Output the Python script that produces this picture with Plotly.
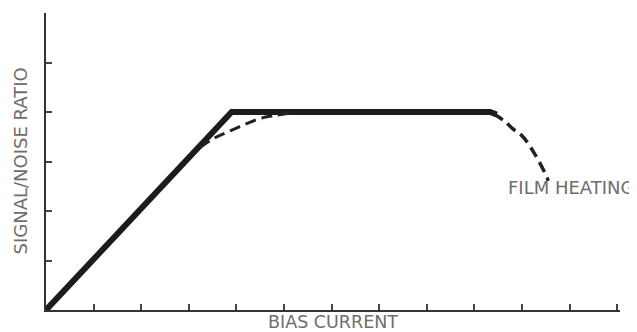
import plotly.graph_objects as go

# Data (units: x = bias current ticks, y = S/N ratio ticks)
solid_x = [0.0, 3.9, 9.33, 9.47]
solid_y = [0.0, 4.0, 4.0, 3.95]

knee_x = [3.24, 3.55, 3.87, 4.18, 4.50, 4.81, 5.13]
knee_y = [3.29, 3.48, 3.62, 3.75, 3.87, 3.93, 3.98]

heat_x = [9.40, 9.64, 9.81, 10.02, 10.27, 10.53, 10.55]
heat_y = [3.97, 3.81, 3.66, 3.50, 3.15, 2.67, 2.61]

x_ticks = list(range(1, 13))
y_ticks = [1, 2, 3, 4, 5]

OFF = 8  # default page body margin
W, H = 637 - OFF, 332 - OFF
# plot area in page pixels: x 46..620, y 13..302
ml, mr, mt, mb = 46 - OFF, 637 - 620, 13 - OFF, 332 - 302 - OFF
PW, PH = W - ml - mr, H - mt - mb


def px(xp):
    return (xp - OFF - ml) / PW


def py(yp):
    return (H - mb - (yp - OFF)) / PH


label_font = dict(family="DejaVu Sans", size=18, color="#6e6e6e")

fig = go.Figure()
fig.add_trace(go.Scatter(x=solid_x, y=solid_y, mode="lines",
                         line=dict(color="#1c1c1c", width=6), hoverinfo="skip"))
fig.add_trace(go.Scatter(x=knee_x, y=knee_y, mode="lines",
                         line=dict(color="#222", width=3, dash="11px,6px", shape="spline"),
                         hoverinfo="skip"))
fig.add_trace(go.Scatter(x=heat_x, y=heat_y, mode="lines",
                         line=dict(color="#222", width=3.5, dash="11px,6px", shape="spline"),
                         hoverinfo="skip"))

fig.update_layout(
    width=W, height=H, margin=dict(l=ml, r=mr, t=mt, b=mb),
    paper_bgcolor="white", plot_bgcolor="white", showlegend=False,
    xaxis=dict(range=[0, 12.06], showgrid=False, zeroline=False, showline=True,
               linecolor="#333", linewidth=2, ticks="inside", tickvals=x_ticks,
               ticklen=6, tickwidth=1.5, tickcolor="#444", showticklabels=False),
    yaxis=dict(range=[0, 6], showgrid=False, zeroline=False, showline=True,
               linecolor="#333", linewidth=2, ticks="inside", tickvals=y_ticks,
               ticklen=6, tickwidth=1.5, tickcolor="#444", showticklabels=False),
    annotations=[
        dict(text="BIAS CURRENT", xref="paper", yref="paper", x=px(333), y=py(321.5),
             showarrow=False, font=dict(label_font, size=17.5), borderpad=0,
             xanchor="center", yanchor="middle"),
        dict(text="SIGNAL/NOISE RATIO", xref="paper", yref="paper", x=px(19.5), y=py(161),
             showarrow=False, textangle=-90, font=label_font,
             xanchor="center", yanchor="middle"),
        dict(text="FILM HEATING", xref="paper", yref="paper", x=px(506), y=py(187),
             xanchor="left", yanchor="middle", showarrow=False, font=label_font),
    ],
)

fig.write_html("out.html")
